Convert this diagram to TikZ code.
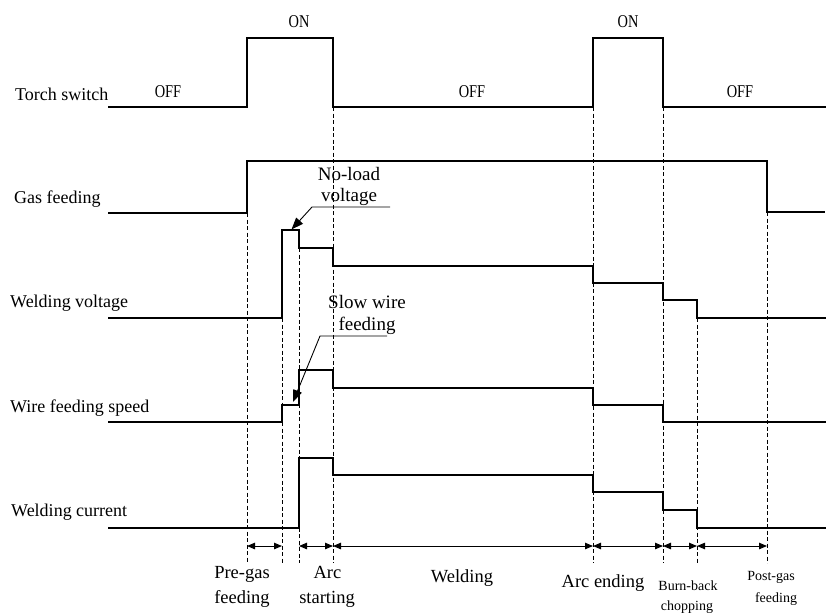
\documentclass[tikz,border=0pt]{standalone}
\usepackage{fontspec}
\setmainfont{Liberation Serif}
\usetikzlibrary{arrows.meta}
\begin{document}
\begin{tikzpicture}[x=1pt,y=-1pt,
  sig/.style={line width=2.9pt, line join=miter},
  guide/.style={line width=0.8pt, dash pattern=on 4pt off 2.5pt, black},
  dim/.style={line width=0.9pt, {Triangle[length=8pt,width=6.5pt]}-{Triangle[length=8pt,width=6.5pt]}},
  lead/.style={line width=0.9pt, -{Triangle[length=12pt,width=9pt]}},
  lbl/.style={font=\fontsize{18}{20}\selectfont, anchor=base west, inner sep=0pt},
  ann/.style={font=\fontsize{19}{21}\selectfont, anchor=base, inner sep=0pt},
  bot/.style={font=\fontsize{18.5}{20}\selectfont, anchor=base, inner sep=0pt},
  sml/.style={font=\fontsize{14}{16}\selectfont, anchor=base, inner sep=0pt},
  st/.style={font=\fontsize{18}{20}\selectfont, anchor=base, inner sep=0pt}
]
\useasboundingbox (0,0) rectangle (826,614);

% guide lines
\draw[guide] (247,213) -- (247,563);
\draw[guide] (282,318) -- (282,563);
\draw[guide] (299,248) -- (299,563);
\draw[guide] (333,107) -- (333,563);
\draw[guide] (593,107) -- (593,563);
\draw[guide] (663,107) -- (663,563);
\draw[guide] (697,318) -- (697,563);
\draw[guide] (767,212) -- (767,563);

% signals
\draw[sig] (108,107) -| (247,38) -| (333,107) -| (593,38) -| (663,107) -- (826,107);
\draw[sig] (108,213) -| (247,161) -| (767,212) -- (825,212);
\draw[sig] (108,318) -| (282,230) -| (299,248) -| (333,266) -| (593,283) -| (663,300) -| (697,318) -- (826,318);
\draw[sig] (108,422) -| (282,405) -| (299,370) -| (333,388) -| (593,405) -| (663,422) -- (826,422);
\draw[sig] (108,528) -| (299,458) -| (333,475) -| (593,492) -| (663,510) -| (697,528) -- (826,528);

% state labels
\node[st] (on1) at (299,27) {\scalebox{0.8}[1]{ON}};
\node[st] (on2) at (628,27) {\scalebox{0.8}[1]{ON}};
\node[st] (off1) at (168,97) {\scalebox{0.8}[1]{OFF}};
\node[st] (off2) at (472,97) {\scalebox{0.8}[1]{OFF}};
\node[st] (off3) at (740,97) {\scalebox{0.8}[1]{OFF}};

% row labels
\node[lbl] (ts) at (15,100) {Torch switch};
\node[lbl] (gf) at (14,203) {Gas feeding};
\node[lbl] (wv) at (10,307) {Welding voltage};
\node[lbl] (wf) at (10,412) {Wire feeding speed};
\node[lbl] (wc) at (11,516) {Welding current};

% annotations
\node[ann] (nl1) at (349,180) {No-load};
\node[ann] (nl2) at (349,201) {voltage};
\coordinate (nlA) at (390,207);
\coordinate (nlB) at (312,207);
\coordinate (nlT) at (291.5,229.5);
\draw[lead] (nlA) -- (nlB) -- (nlT);

\node[ann] (sw1) at (367,308) {Slow wire};
\node[ann] (sw2) at (367,330) {feeding};
\coordinate (swA) at (387,336);
\coordinate (swB) at (320,336);
\coordinate (swT) at (293,402);
\draw[lead] (swA) -- (swB) -- (swT);

% dimension arrows
\coordinate (p1) at (247,546);
\coordinate (p2) at (282,546);
\coordinate (p3) at (299,546);
\coordinate (p4) at (333,546);
\coordinate (p5) at (593,546);
\coordinate (p6) at (663,546);
\coordinate (p7) at (697,546);
\coordinate (p8) at (767,546);
\draw[dim] (p1) -- (p2);
\draw[dim] (p3) -- (p4);
\draw[dim] (p4) -- (p5);
\draw[dim] (p5) -- (p6);
\draw[dim] (p6) -- (p7);
\draw[dim] (p7) -- (p8);

% phase labels
\node[bot] (pg1) at (242,578) {Pre-gas};
\node[bot] (pg2) at (242,603) {feeding};
\node[bot] (as1) at (327.5,578) {Arc};
\node[bot] (as2) at (327,603) {starting};
\node[bot] (wl) at (462,582) {Welding};
\node[bot] (ae) at (603,587) {Arc ending};
\node[sml] (bb1) at (688,590) {Burn-back};
\node[sml] (bb2) at (687,610) {chopping};
\node[sml] (ps1) at (771,580) {Post-gas};
\node[sml] (ps2) at (776,602) {feeding};
\end{tikzpicture}
\end{document}
